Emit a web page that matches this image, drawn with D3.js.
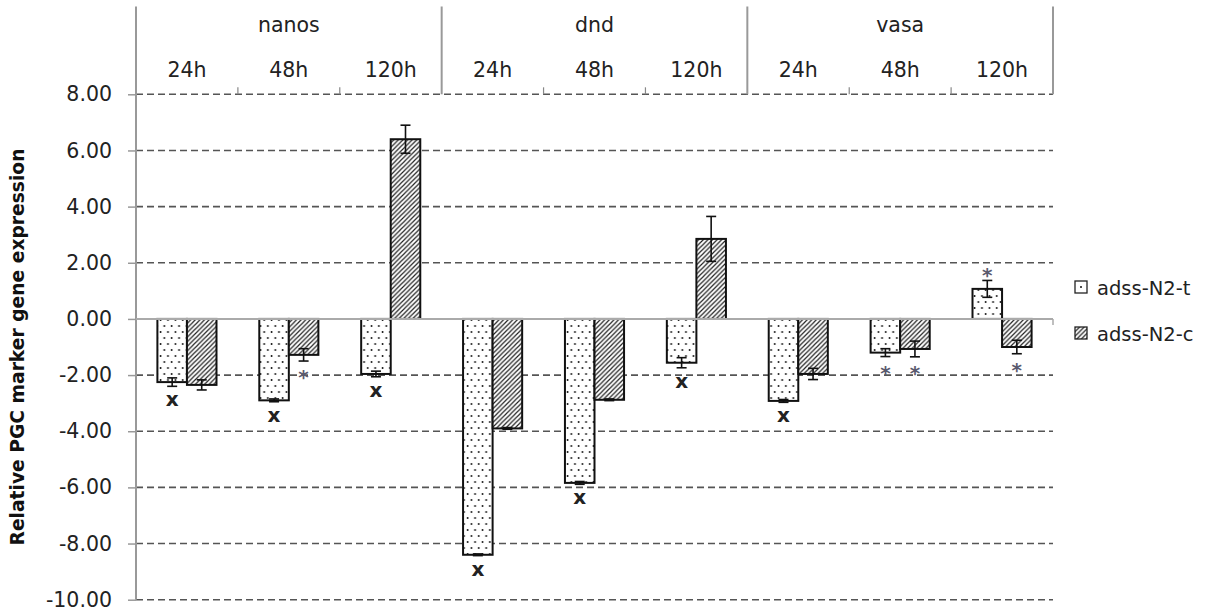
<!DOCTYPE html>
<html>
<head>
<meta charset="utf-8">
<script src="https://cdn.jsdelivr.net/npm/d3@7"></script>
<style>
  html, body { margin: 0; padding: 0; background: #fff; }
  svg { display: block; font-family: "DejaVu Sans", Verdana, sans-serif; }
</style>
</head>
<body>
<svg id="chart" width="1218" height="613"></svg>
<script>
// Genes and sampling times (two-level category axis)
const genes = ["nanos", "dnd", "vasa"];
const times = ["24h", "48h", "120h"];

// Series names
const seriesNames = ["adss-N2-t", "adss-N2-c"];

// Relative expression, one value per gene × time (nanos 24h … vasa 120h)
const valuesT = [-2.25, -2.90, -1.96, -8.40, -5.84, -1.56, -2.92, -1.20, 1.07];
const errorsT = [0.15, 0.05, 0.10, 0.03, 0.05, 0.18, 0.05, 0.14, 0.30];
const valuesC = [-2.35, -1.28, 6.40, -3.90, -2.88, 2.85, -1.96, -1.07, -1.00];
const errorsC = [0.18, 0.22, 0.50, 0.03, 0.03, 0.80, 0.20, 0.28, 0.24];

// Significance marks
const marksT = ["x", "x", "x", "x", "x", "x", "x", "*", "*"];
const marksC = ["", "*", "", "", "", "", "", "*", "*"];

// Y axis ticks
const yTicks = [8, 6, 4, 2, 0, -2, -4, -6, -8, -10];

const yTitle = "Relative PGC marker gene expression";

// ---- layout ----
const svg = d3.select("#chart");
const plotLeft = 136, plotRight = 1053, plotTop = 94.3, plotBottom = 599.7;
const headerTop = 6.5;

const cats = [];
genes.forEach(g => times.forEach(t => cats.push(g + "|" + t)));

const x = d3.scaleBand().domain(cats).range([plotLeft, plotRight]).paddingInner(0).paddingOuter(0);
const y = d3.scaleLinear().domain([-10, 8]).range([plotBottom, plotTop]);
const xs = d3.scaleBand().domain(seriesNames).range([0, x.bandwidth() * 0.58]);
const barOffset = (x.bandwidth() - xs.range()[1]) / 2;

// number format with a plain hyphen for negatives
const fmt = d3.formatLocale({ decimal: ".", thousands: ",", grouping: [3], currency: ["", ""], minus: "-" }).format(".2f");

// ---- patterns ----
const defs = svg.append("defs");
const dots = defs.append("pattern").attr("id", "dots").attr("patternUnits", "userSpaceOnUse")
  .attr("width", 7.4).attr("height", 12).attr("x", 0).attr("y", 0);
dots.append("rect").attr("width", 7.4).attr("height", 12).attr("fill", "#fff");
dots.append("circle").attr("cx", 1.5).attr("cy", 2).attr("r", 0.95).attr("fill", "#111");
dots.append("circle").attr("cx", 5.2).attr("cy", 8).attr("r", 0.95).attr("fill", "#111");

const hatch = defs.append("pattern").attr("id", "hatch").attr("patternUnits", "userSpaceOnUse")
  .attr("width", 4.6).attr("height", 4.6);
hatch.append("rect").attr("width", 4.6).attr("height", 4.6).attr("fill", "#fff");
hatch.append("path").attr("d", "M-1,1 l2,-2 M0,4.6 l4.6,-4.6 M3.6,5.6 l2,-2")
  .attr("stroke", "#222").attr("stroke-width", 1.2);

const fills = { "adss-N2-t": "url(#dots)", "adss-N2-c": "url(#hatch)" };

// ---- gridlines (including the dashed top line at 8.00) ----
const grid = svg.append("g");
grid.selectAll("line.grid").data(yTicks.filter(d => d !== 0)).join("line")
  .attr("x1", plotLeft).attr("x2", plotRight)
  .attr("y1", d => y(d)).attr("y2", d => y(d))
  .attr("stroke", "#555").attr("stroke-width", 1.6).attr("stroke-dasharray", "7,4");

// ---- y axis ----
const yAxis = svg.append("g").attr("transform", `translate(${plotLeft},0)`)
  .call(d3.axisLeft(y).tickValues(yTicks).tickSize(8).tickPadding(16).tickFormat(fmt));
yAxis.select(".domain").remove();
yAxis.selectAll(".tick line").attr("stroke", "#999").attr("stroke-width", 1.5);
yAxis.selectAll(".tick text").attr("font-size", 20.5).attr("fill", "#222")
  .attr("font-family", "DejaVu Sans, Verdana, sans-serif");

// left axis line (extends up through the header)
svg.append("line").attr("x1", plotLeft).attr("x2", plotLeft)
  .attr("y1", headerTop).attr("y2", plotBottom)
  .attr("stroke", "#999").attr("stroke-width", 2);

// ---- header: group separators, minor ticks, labels ----
const hdr = svg.append("g");
genes.forEach(g => {
  const first = x(g + "|" + times[0]);
  const last = x(g + "|" + times[times.length - 1]) + x.bandwidth();
  hdr.append("line").attr("x1", last).attr("x2", last).attr("y1", headerTop).attr("y2", plotTop)
    .attr("stroke", "#999").attr("stroke-width", 2);
  hdr.append("text").attr("x", (first + last) / 2).attr("y", 32)
    .attr("text-anchor", "middle").attr("font-size", 20.5).attr("fill", "#222").text(g);
  times.forEach((t, ti) => {
    const cx = x(g + "|" + t) + x.bandwidth() / 2;
    hdr.append("text").attr("x", cx).attr("y", 77)
      .attr("text-anchor", "middle").attr("font-size", 20.5).attr("fill", "#222").text(t);
    if (ti > 0) {
      hdr.append("line").attr("x1", x(g + "|" + t)).attr("x2", x(g + "|" + t))
        .attr("y1", plotTop - 7).attr("y2", plotTop)
        .attr("stroke", "#888").attr("stroke-width", 1.2);
    }
  });
});

// ---- bars ----
const rows = cats.map((c, i) => ({
  cat: c,
  items: [
    { s: seriesNames[0], v: valuesT[i], e: errorsT[i], m: marksT[i] },
    { s: seriesNames[1], v: valuesC[i], e: errorsC[i], m: marksC[i] }
  ]
}));

const barsG = svg.append("g");
rows.forEach(r => {
  r.items.forEach(it => {
    const bx = x(r.cat) + barOffset + xs(it.s);
    const bw = xs.bandwidth();
    barsG.append("rect")
      .attr("x", bx).attr("width", bw)
      .attr("y", Math.min(y(it.v), y(0)))
      .attr("height", Math.abs(y(it.v) - y(0)))
      .attr("fill", fills[it.s]).attr("stroke", "#111").attr("stroke-width", 2);
  });
});

// zero line
svg.append("line").attr("x1", plotLeft).attr("x2", plotRight)
  .attr("y1", y(0)).attr("y2", y(0)).attr("stroke", "#aaa").attr("stroke-width", 2);
svg.append("line").attr("x1", plotRight).attr("x2", plotRight)
  .attr("y1", y(0)).attr("y2", y(0) + 6).attr("stroke", "#aaa").attr("stroke-width", 1.5);

// ---- error bars and marks ----
const errG = svg.append("g");
rows.forEach(r => {
  r.items.forEach(it => {
    const cx = x(r.cat) + barOffset + xs(it.s) + xs.bandwidth() / 2;
    const yHi = y(it.v + it.e), yLo = y(it.v - it.e);
    errG.append("line").attr("x1", cx).attr("x2", cx).attr("y1", yHi).attr("y2", yLo)
      .attr("stroke", "#111").attr("stroke-width", 1.6);
    [yHi, yLo].forEach(yy => errG.append("line")
      .attr("x1", cx - 5).attr("x2", cx + 5).attr("y1", yy).attr("y2", yy)
      .attr("stroke", "#111").attr("stroke-width", 1.6));

    if (it.m) {
      const below = it.v < 0;
      const edge = below ? yLo : yHi;
      if (it.m === "x") {
        errG.append("text").attr("x", cx).attr("y", edge + 20)
          .attr("text-anchor", "middle").attr("font-size", 20).attr("font-weight", "bold")
          .attr("fill", "#222").text("x");
      } else {
        const cy = below ? edge + 11 : edge - 10;
        errG.append("text").attr("x", cx).attr("y", cy + 12)
          .attr("text-anchor", "middle").attr("font-size", 20).attr("font-weight", "bold")
          .attr("fill", "#5a5a6e").text("*");
      }
    }
  });
});

// ---- y title ----
svg.append("text").attr("transform", `translate(24,${(plotTop + plotBottom) / 2}) rotate(-90)`)
  .attr("text-anchor", "middle").attr("font-size", 18.7).attr("font-weight", "bold")
  .attr("fill", "#111").text(yTitle);

// ---- legend ----
const legend = svg.append("g").attr("transform", "translate(1075,281)");
seriesNames.forEach((s, i) => {
  const g = legend.append("g").attr("transform", `translate(0,${i * 46})`);
  g.append("rect").attr("width", 12).attr("height", 12)
    .attr("fill", i === 0 ? "#fff" : "url(#hatch)").attr("stroke", "#222").attr("stroke-width", 1.3);
  if (i === 0) g.append("circle").attr("cx", 6).attr("cy", 6).attr("r", 1).attr("fill", "#111");
  g.append("text").attr("x", 22).attr("y", 13.5).attr("font-size", 19.5)
    .attr("fill", "#222").text(s);
});
</script>
</body>
</html>
